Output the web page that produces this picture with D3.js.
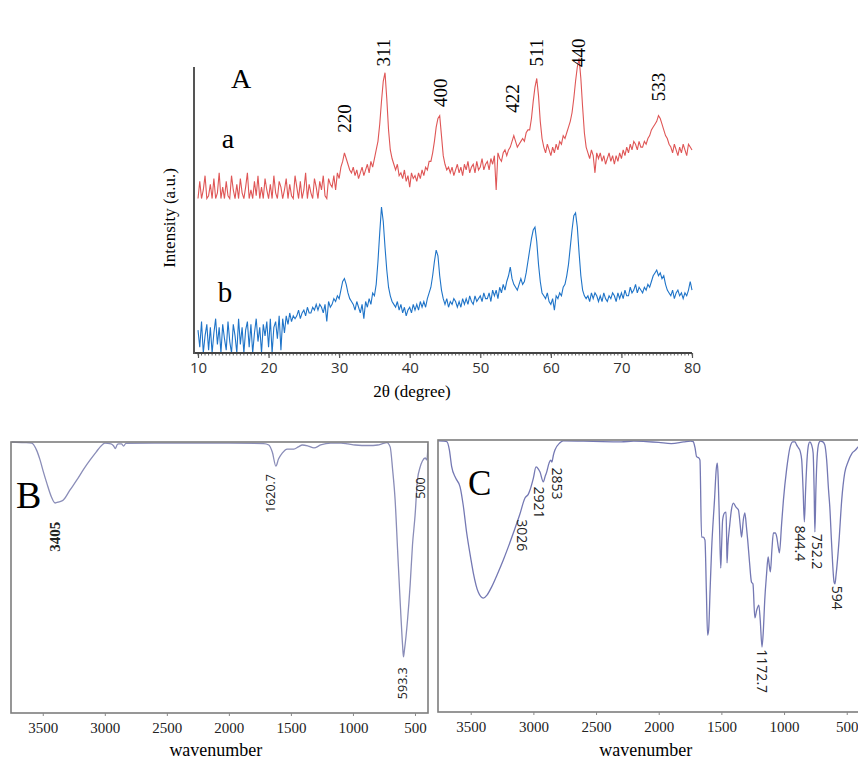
<!DOCTYPE html>
<html>
<head>
<meta charset="utf-8">
<style>
  body { margin: 0; background: #fff; }
  svg { display: block; }
</style>
</head>
<body>
<svg id="fig" width="858" height="761"></svg>
<script src="https://d3js.org/d3.v7.min.js"></script>
<script>
// ---------- A : XRD, 4 readings per degree (start, +0.25, +0.5, +0.75)
var xrdStart = 10, xrdStep = 0.25;
var xrdTicks = [10, 20, 30, 40, 50, 60, 70, 80];

var redRows = [
  [54,60,54,57], [62,54,55,59], [54,61,54,56], [63,54,58,54], [60,55,54,62], // 10-14
  [57,54,59,54], [61,56,54,58], [63,54,57,54], [60,55,62,54], [58,54,61,57], // 15-19
  [54,59,54,62], [56,54,60,58], [54,57,61,54], [59,55,54,62], [58,54,60,54], // 20-24
  [57,63,54,59], [56,54,61,58], [54,60,57,62], [55,54,61,59], [58,62,57,63], // 25-29
  [61,65,67,70], [68,66,64,63], [65,62,64,61], [63,65,62,64], [66,63,67,65], // 30-34
  [68,71,74,80], [88,95,98,89], [78,71,68,66], [64,66,62,63], [61,64,60,62], // 35-39
  [58,63,61,62], [60,63,61,64], [62,65,64,67], [67,70,74,79], [82,83,76,69], // 40-44
  [66,64,65,63], [65,62,64,66], [63,65,62,66], [64,67,63,65], [66,63,67,64], // 45-49
  [65,68,64,66], [67,64,68,66], [69,57,70,68], [67,70,71,69], [71,72,74,76], // 50-54
  [74,72,73,74], [75,74,77,78], [78,82,88,93], [96,90,81,75], [72,70,73,71], // 55-59
  [69,72,70,73], [71,74,73,76], [75,77,79,81], [84,89,95,100], [103,96,86,77], // 60-64
  [72,70,68,71], [69,63,70,68], [70,67,69,66], [68,70,67,69], [66,69,67,70], // 65-69
  [68,71,69,72], [70,73,71,74], [73,71,74,72], [72,74,73,75], [76,78,79,80], // 70-74
  [81,83,82,80], [78,76,75,73], [72,70,73,71], [69,72,70,73], [71,69,73,72], // 75-79
  [71]                                                                        // 80
];

var blueRows = [
  [8,2,11,0], [6,10,1,9], [0,7,12,3], [9,0,10,5], [1,11,4,0],                // 10-14
  [10,6,0,12], [3,9,0,8], [11,2,10,0], [7,12,4,9], [0,10,6,11],              // 15-19
  [2,12,0,9], [11,5,13,1], [12,7,13,10], [14,11,13,12], [13,15,12,14],       // 20-24
  [15,13,16,14], [14,16,15,17], [15,17,16,14], [17,11,18,16], [17,19,18,20], // 25-29
  [19,22,25,26], [24,21,19,18], [17,15,18,16], [14,17,12,18], [16,19,17,21], // 30-34
  [20,24,32,42], [51,46,37,29], [23,20,18,17], [16,18,15,17], [14,16,13,15], // 35-39
  [16,14,17,15], [17,15,18,16], [18,16,19,21], [23,27,32,36], [34,27,22,19], // 40-44
  [17,19,16,18], [17,19,18,16], [18,16,19,17], [19,17,20,18], [17,20,18,19], // 45-49
  [20,18,21,19], [19,21,18,22], [20,22,19,23], [21,24,22,25], [27,30,26,24], // 50-54
  [23,22,24,26], [24,25,28,32], [36,40,43,44], [39,31,25,21], [20,19,21,18], // 55-59
  [17,19,15,20], [19,21,20,23], [24,27,31,37], [43,48,49,44], [35,27,22,20], // 60-64
  [19,20,18,21], [19,21,20,18], [20,18,21,19], [18,20,19,21], [20,18,21,19], // 65-69
  [21,19,22,20], [20,23,21,22], [24,21,23,22], [21,23,22,24], [23,25,27,28], // 70-74
  [29,27,28,26], [27,24,22,21], [20,22,19,21], [22,20,21,19], [21,20,22,25], // 75-79
  [22]                                                                        // 80
];

var hklText = ["220", "311", "400", "422", "511", "440", "533"];
var hklTheta = [30.8, 36.3, 44.3, 54.5, 58.0, 63.9, 75.2];
var hklLevel = [82, 105, 91, 89, 105, 105, 93];

// ---------- B / C : FTIR, [wavenumber, transmittance %]
var wnTicks = [3500, 3000, 2500, 2000, 1500, 1000, 500];

var ftirB = [
  [3750,100],[3650,99.8],[3589,99.6],[3550,97],[3522,93.4],[3495,89],[3468,84.9],[3430,79.7],
  [3401,77.5],[3370,77.9],[3334,78.6],[3280,82.3],[3225,86],[3170,90],[3118,93.4],[3070,96.3],
  [3037,98.2],[3000,99.6],[2950,99.3],[2930,98.6],[2915,97.6],[2900,99],[2890,99.3],[2865,99.3],
  [2849,98.5],[2830,99.5],[2500,99.6],[2000,99.6],[1720,99.4],[1678,98.9],[1650,96.3],[1621,91.1],
  [1600,93.7],[1570,95.9],[1530,97.4],[1476,97.4],[1440,98.2],[1408,98.9],[1360,98.5],[1314,97.8],
  [1260,98.9],[1180,99.6],[1095,99.6],[1040,99.3],[982,98.9],[874,98.7],[800,98.9],[767,99.3],
  [726,99.8],[700,98.2],[680,89.7],[660,78.6],[640,60.1],[620,41.7],[600,25.1],[593,20.7],
  [585,23.2],[560,34.3],[539,47.2],[520,62],[499,73],[480,86],[458,90.8],[440,93],
  [418,94.1],[405,93.4],[398,96.3],[395,99.3]
];

var ftirC = [
  [3758,99.7],[3720,99.6],[3691,99.4],[3670,96.3],[3652,90.2],[3620,86],[3585,82.8],[3560,76.1],
  [3532,65.8],[3500,56.6],[3479,51.1],[3440,44.1],[3400,41.9],[3370,43],[3333,46],[3290,50.4],
  [3240,55.9],[3200,60.7],[3160,65.8],[3110,72.4],[3067,78.7],[3040,80.1],[3027,81.6],[3000,86],
  [2979,90.1],[2960,89.3],[2947,88.2],[2921,84.6],[2905,86.8],[2894,88.2],[2875,91.5],[2862,92.6],
  [2853,91.9],[2840,94.5],[2828,96.3],[2790,98.9],[2761,99.7],[2600,99.6],[2450,99.4],[2300,99.3],
  [2200,99.6],[2100,99.4],[2000,99.1],[1900,98.7],[1800,99.3],[1745,99.6],[1725,99.4],[1710,97.1],
  [1698,93.9],[1680,93.4],[1671,92.6],[1658,64.3],[1645,64.3],[1631,63.2],[1620,44.9],[1610,28.3],
  [1602,30.1],[1590,44.9],[1578,59.6],[1555,77.9],[1540,89.7],[1532,91.5],[1525,85.3],[1515,68.8],
  [1505,52.9],[1498,61.4],[1490,70.6],[1475,73.2],[1463,73.5],[1458,63.6],[1455,54.8],[1448,61.4],
  [1435,68],[1420,74.3],[1404,76.8],[1385,75.4],[1364,74.3],[1350,68.8],[1339,64.3],[1325,70.6],
  [1313,73.2],[1300,68],[1290,63.2],[1275,54.8],[1260,47.8],[1248,47.1],[1233,34.6],[1218,37.5],
  [1201,39.3],[1190,33.8],[1176,23.9],[1165,30.1],[1154,41.2],[1140,50.4],[1127,57],[1118,54],
  [1109,51.5],[1097,59.6],[1085,65.8],[1070,65.8],[1058,64.3],[1045,60.3],[1037,58.5],[1020,68.8],
  [1005,77.9],[980,89],[952,97.4],[930,99.3],[912,99.3],[900,98.2],[885,97.1],[870,95.6],
  [859,92.6],[848,81.6],[838,69.9],[828,81.6],[817,92.6],[805,98.2],[795,99.3],[780,98.2],
  [768,95.2],[760,81.6],[754,66.2],[746,81.6],[736,93.8],[722,98.9],[710,99.6],[690,99.3],
  [675,98.2],[660,92.6],[645,81.6],[635,75.4],[620,61.4],[601,47.8],[594,47.1],[585,50.4],
  [561,63.2],[540,77.9],[516,87.9],[490,91.9],[457,95.2],[430,96.3],[410,97.4],[395,97.8]
];

var peaksB = [["3405", 3405, 65], ["1620.7", 1660, 81], ["593.3", 600, 11], ["500", 455, 83]];
var peaksC = [["3026", 3090, 65], ["2921", 2952, 77], ["2853", 2815, 84], ["1172.7", 1180, 15],
              ["844.4", 872, 62], ["752.2", 740, 59], ["594", 575, 42]];

var serif = "'Liberation Serif', 'Times New Roman', serif";
var sans = "'Open Sans', 'DejaVu Sans', sans-serif";

var svg = d3.select("#fig");
svg.append("rect").attr("width", 858).attr("height", 761).attr("fill", "#fff");

// ================= panel A =================
var xA = d3.scaleLinear().domain([10, 80]).range([198, 692]);
var yA = d3.scaleLinear().domain([0, 100]).range([353, 67]);

function flatten(rows) {
  var pts = [];
  rows.forEach(function(row, i) {
    row.forEach(function(v, j) { pts.push({t: xrdStart + i + j * xrdStep, v: v}); });
  });
  return pts;
}

var lineA = d3.line()
    .x(function(d) { return xA(d.t); })
    .y(function(d) { return yA(d.v); });

svg.append("path")
    .datum(flatten(blueRows))
    .attr("d", lineA)
    .attr("fill", "none")
    .attr("stroke", "#1f74c8")
    .attr("stroke-width", 1.1);

svg.append("path")
    .datum(flatten(redRows))
    .attr("d", lineA)
    .attr("fill", "none")
    .attr("stroke", "#df5656")
    .attr("stroke-width", 1.1);

// axes
var gA = svg.append("g")
    .attr("transform", "translate(0,353)")
    .call(d3.axisBottom(xA).tickValues(xrdTicks).tickSize(5).tickPadding(4));
gA.attr("font-family", sans).attr("font-size", 15);
gA.select(".domain").remove();
gA.selectAll(".tick line").attr("stroke", "#555").attr("stroke-width", 1.2);
gA.selectAll(".tick text").attr("fill", "#333");
gA.selectAll(".minor")
    .data(d3.range(10, 80.01, 0.5))
    .enter().append("line")
      .attr("class", "minor")
      .attr("x1", function(d) { return xA(d); })
      .attr("x2", function(d) { return xA(d); })
      .attr("y1", 0).attr("y2", 2.5)
      .attr("stroke", "#666");
gA.append("line")
    .attr("x1", 193).attr("x2", 692)
    .attr("stroke", "#444").attr("stroke-width", 2);

svg.append("line")
    .attr("x1", 194).attr("x2", 194)
    .attr("y1", 67).attr("y2", 354)
    .attr("stroke", "#555").attr("stroke-width", 2);

svg.append("text")
    .attr("x", 412).attr("y", 397)
    .attr("text-anchor", "middle")
    .attr("font-family", serif).attr("font-size", 17)
    .text("2θ (degree)");

svg.append("text")
    .attr("transform", "translate(169,218) rotate(-90)")
    .attr("text-anchor", "middle").attr("dy", "0.35em")
    .attr("font-family", serif).attr("font-size", 17)
    .text("Intensity (a.u.)");

svg.append("text").attr("x", 241).attr("y", 88)
    .attr("text-anchor", "middle")
    .attr("font-family", serif).attr("font-size", 28)
    .text("A");
svg.append("text").attr("x", 228).attr("y", 148)
    .attr("text-anchor", "middle")
    .attr("font-family", serif).attr("font-size", 28)
    .text("a");
svg.append("text").attr("x", 225).attr("y", 302)
    .attr("text-anchor", "middle")
    .attr("font-family", serif).attr("font-size", 29)
    .text("b");

svg.selectAll(".hkl")
    .data(hklText)
    .enter().append("text")
      .attr("class", "hkl")
      .attr("transform", function(d, i) {
        return "translate(" + xA(hklTheta[i]) + "," + yA(hklLevel[i]) + ") rotate(-90)";
      })
      .attr("text-anchor", "middle").attr("dy", "0.35em")
      .attr("font-family", serif).attr("font-size", 19)
      .text(function(d) { return d; });

// ================= panels B, C =================
function ftirPanel(id, data, peaks, left, top, right, bottom, wnLeft, wnRight, frameW, color, rot, letter, letterPos, labelSize) {
  var x = d3.scaleLinear().domain([wnLeft, wnRight]).range([left, right]);
  var y = d3.scaleLinear().domain([0, 100]).range([bottom, top]);

  svg.append("clipPath").attr("id", "clip" + id)
    .append("rect").attr("x", left).attr("y", top - 2)
      .attr("width", frameW).attr("height", bottom - top + 2);

  var line = d3.line()
      .x(function(d) { return x(d[0]); })
      .y(function(d) { return y(d[1]); })
      .curve(d3.curveMonotoneX);

  svg.append("path")
      .datum(data)
      .attr("d", line)
      .attr("clip-path", "url(#clip" + id + ")")
      .attr("fill", "none")
      .attr("stroke", color)
      .attr("stroke-width", 1.3);

  svg.append("rect")
      .attr("x", left).attr("y", top)
      .attr("width", frameW).attr("height", bottom - top)
      .attr("fill", "none")
      .attr("stroke", "#7d7d7d").attr("stroke-width", 1.6);

  var g = svg.append("g")
      .attr("transform", "translate(0," + bottom + ")")
      .call(d3.axisBottom(x).tickValues(wnTicks).tickFormat(d3.format("d")).tickSize(3).tickPadding(6));
  g.attr("font-family", serif).attr("font-size", 15);
  g.select(".domain").remove();
  g.selectAll(".tick line").attr("stroke", "#888");
  g.selectAll(".tick text").attr("fill", "#222");

  svg.append("text")
      .attr("x", (x(3500) + x(500)) / 2 - 13).attr("y", 756)
      .attr("text-anchor", "middle")
      .attr("font-family", serif).attr("font-size", 18)
      .text("wavenumber");

  svg.append("text")
      .attr("x", letterPos[0]).attr("y", letterPos[1])
      .attr("font-family", serif).attr("font-size", letterPos[2])
      .text(letter);

  svg.selectAll(".pk" + id)
      .data(peaks)
      .enter().append("text")
        .attr("class", "pk" + id)
        .attr("transform", function(d) {
          return "translate(" + x(d[1]) + "," + y(d[2]) + ") rotate(" + rot + ")";
        })
        .attr("text-anchor", "middle").attr("dy", "0.35em")
        .attr("font-family", function(d) { return d[0] === "3405" ? serif : sans; })
        .attr("font-weight", function(d) { return d[0] === "3405" ? "bold" : "normal"; })
        .attr("font-size", function(d) { return d[0] === "3405" ? 15 : labelSize; })
        .attr("fill", "#222")
        .text(function(d) { return d[0]; });
}

ftirPanel("B", ftirB, peaksB, 11, 442, 428, 713, 3756, 395, 417, "#8a8db8", -90, "B", [16, 508, 38], 12.5);
ftirPanel("C", ftirC, peaksC, 438, 440, 858, 712, 3761, 410, 440, "#7478b3", 90, "C", [468, 495, 35], 14);
</script>
</body>
</html>
